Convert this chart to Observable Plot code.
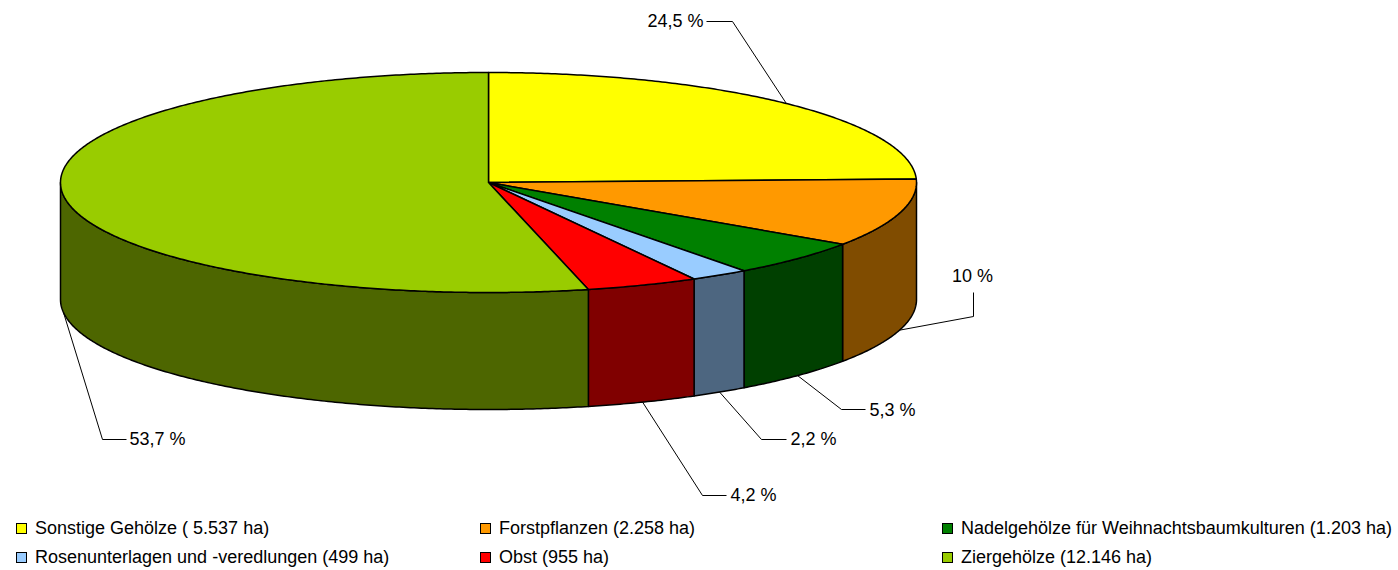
<!DOCTYPE html>
<html>
<head>
<meta charset="utf-8">
<script src="https://cdn.jsdelivr.net/npm/d3@7"></script>
<script src="https://cdn.jsdelivr.net/npm/@observablehq/plot@0.6"></script>
<style>
  html, body { margin: 0; padding: 0; background: #fff; }
  body { width: 1398px; height: 570px; position: relative; overflow: hidden; font-family: "Liberation Sans", Arial, sans-serif; }
  #chart { position: absolute; left: 0; top: 0; }
  .item { position: absolute; display: flex; align-items: center; font-size: 18px; color: #000; white-space: nowrap; height: 22px; }
  .sw { box-sizing: border-box; width: 11px; height: 11px; border: 1px solid #000; margin-right: 8px; }
</style>
</head>
<body>
<div id="chart"></div>
<div id="legend"></div>
<script>
// ---- data ----
const categories = ["Sonstige Gehölze", "Forstpflanzen", "Nadelgehölze für Weihnachtsbaumkulturen", "Rosenunterlagen und -veredlungen", "Obst", "Ziergehölze"];
const areas = [5537, 2258, 1203, 499, 955, 12146];
const legendLabels = ["Sonstige Gehölze ( 5.537 ha)", "Forstpflanzen (2.258 ha)", "Nadelgehölze für Weihnachtsbaumkulturen (1.203 ha)", "Rosenunterlagen und -veredlungen (499 ha)", "Obst (955 ha)", "Ziergehölze (12.146 ha)"];
const topColors = ["#FFFF00", "#FF9900", "#008000", "#99CCFF", "#FF0000", "#99CC00"];
const sideColors = ["#808000", "#804C00", "#004000", "#4D6680", "#800000", "#4D6600"];

// ---- layout ----
const W = 1398, H = 512;
const cx = 488, cy = 182, rx = 428, ry = 110, depth = 117;
// label placement: text position, anchor, elbow points
const labelLayout = [
  {tx: 703, ty: 21, anchor: "end", path: [[706, 21], [732, 21]], edge: "top"},
  {tx: 972, ty: 276, anchor: "middle", path: [[973, 292], [973, 316]], edge: "bottom"},
  {tx: 869, ty: 410, anchor: "start", path: [[865, 409], [841, 409]], edge: "bottom"},
  {tx: 790, ty: 439, anchor: "start", path: [[786, 439], [761, 439]], edge: "bottom"},
  {tx: 730, ty: 495, anchor: "start", path: [[726, 495], [702, 495]], edge: "bottom"},
  {tx: 129, ty: 439, anchor: "start", path: [[126, 439], [102, 439]], edge: "bottom"}
];

const total = d3.sum(areas);
const rad = d => d * Math.PI / 180;
const pt = (deg, dy = 0) => [cx + rx * Math.sin(rad(deg)), cy - ry * Math.cos(rad(deg)) + dy];
function arc(a0, a1, dy = 0) {
  const n = Math.max(2, Math.ceil(Math.abs(a1 - a0) / 0.5));
  return d3.range(n + 1).map(i => pt(a0 + (a1 - a0) * i / n, dy));
}

let acc = 0;
const slices = areas.map((v, i) => {
  const a0 = acc / total * 360;
  acc += v;
  const a1 = acc / total * 360;
  return {i, v, a0, a1, mid: (a0 + a1) / 2};
});

const marks = [];
// side faces (front half, 90..270 deg)
slices.forEach(s => {
  const s0 = Math.max(s.a0, 90), s1 = Math.min(s.a1, 270);
  if (s1 > s0) {
    const pts = [...arc(s0, s1), ...arc(s1, s0, depth)];
    pts.push(pts[0]);
    marks.push(Plot.line(pts.map(([x, y]) => ({x, y})), {x: "x", y: "y", fill: sideColors[s.i], stroke: "#000", strokeWidth: 1.5, strokeLinejoin: "round"}));
  }
});
// top faces
slices.forEach(s => {
  const pts = [[cx, cy], ...arc(s.a0, s.a1), [cx, cy]];
  marks.push(Plot.line(pts.map(([x, y]) => ({x, y})), {x: "x", y: "y", fill: topColors[s.i], stroke: "#000", strokeWidth: 1.5, strokeLinejoin: "round"}));
});
// leader lines and labels
slices.forEach(s => {
  const L = labelLayout[s.i];
  const a = L.edge === "top" ? pt(s.mid) : pt(s.mid, depth);
  const pts = [...L.path, a];
  marks.push(Plot.line(pts.map(([x, y]) => ({x, y})), {x: "x", y: "y", stroke: "#000", strokeWidth: 1, strokeLinecap: "butt"}));
  const p = Math.round(s.v / total * 1000) / 10;
  const label = String(p).replace(".", ",") + " %";
  marks.push(Plot.text([{x: L.tx, y: L.ty, t: label}], {x: "x", y: "y", text: "t", textAnchor: L.anchor, fontSize: 18, fill: "#000"}));
});

const chart = Plot.plot({
  width: W, height: H,
  margin: 0,
  x: {domain: [0, W], range: [0, W], axis: null},
  y: {domain: [0, H], range: [0, H], axis: null},
  style: {fontFamily: "'Liberation Sans', Arial, sans-serif", background: "#fff"},
  marks
});
document.getElementById("chart").appendChild(chart);

// legend
const colX = [16, 480, 942];
const rowY = [528, 557];
const legend = document.getElementById("legend");
legendLabels.forEach((t, i) => {
  const d = document.createElement("div");
  d.className = "item";
  d.style.left = colX[i % 3] + "px";
  d.style.top = (rowY[Math.floor(i / 3)] - 11) + "px";
  const sw = document.createElement("span");
  sw.className = "sw";
  sw.style.background = topColors[i];
  d.appendChild(sw);
  d.appendChild(document.createTextNode(t));
  legend.appendChild(d);
});
</script>
</body>
</html>
